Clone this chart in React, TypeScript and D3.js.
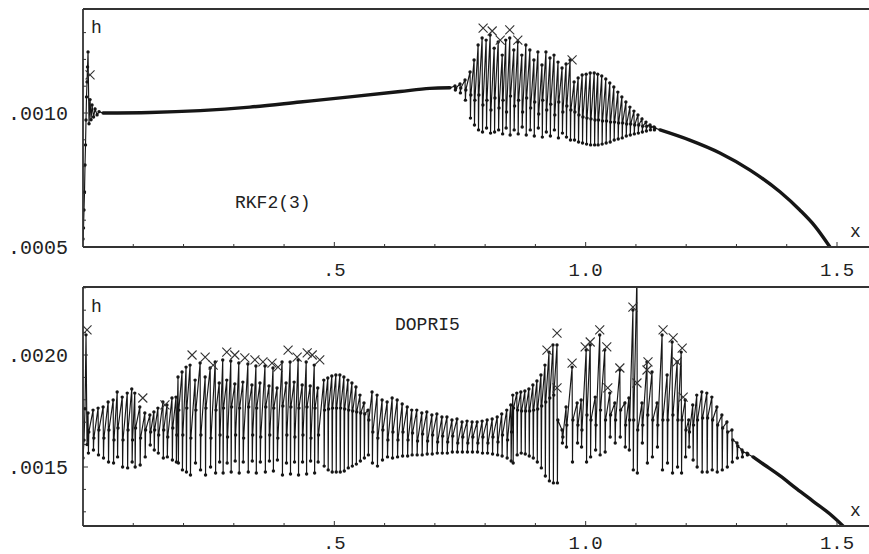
import * as d3 from "d3";
import { useRef, useEffect } from "react";

const width = 869;
const height = 554;

// x axis (shared)
const xMajorTicks = [0.5, 1.0, 1.5];
const xMinorTicks = [0.1, 0.2, 0.3, 0.4, 0.6, 0.7, 0.8, 0.9, 1.1, 1.2, 1.3, 1.4];
const xTickLabels = [".5", "1.0", "1.5"];

// ---- RKF2(3): step size h, in units of 1e-4 ----
const rkfYMajor = [5, 10];
const rkfYMinor = [6, 7, 8, 9, 11, 12, 13];
const rkfYLabels = [".0005", ".0010"];

// start-up steps [x, h]
const rkfStart = [
  [0.0, 5.3], [0.001, 5.71], [0.002, 6.38], [0.003, 7.05], [0.004, 8.06], [0.005, 8.81],
  [0.006, 9.74], [0.007, 10.6], [0.008, 11.16], [0.009, 11.72], [0.01, 12.28], [0.012, 9.6],
  [0.014, 10.5], [0.016, 9.75], [0.018, 10.3], [0.021, 9.85], [0.024, 10.15], [0.028, 9.93],
  [0.032, 10.05],
];
// smooth part [x, h]
const rkfSmooth = [
  [0.04, 10.0], [0.133, 10.02], [0.233, 10.09], [0.332, 10.22], [0.432, 10.41],
  [0.531, 10.6], [0.631, 10.8], [0.69, 10.92], [0.73, 10.94],
];
// oscillating steps [x, high, low, middle]
const rkfStrokes = [
  [0.74, 11.01, 10.86, 10.93], [0.75, 11.08, 10.75, 10.93], [0.76, 11.23, 10.48, 10.86],
  [0.77, 11.53, 9.81, 10.67], [0.778, 11.98, 9.55, 10.48], [0.786, 12.54, 9.37, 10.67],
  [0.794, 12.8, 9.29, 10.3], [0.802, 12.72, 9.44, 10.48], [0.81, 12.91, 9.25, 10.11],
  [0.818, 12.42, 9.29, 10.56], [0.826, 12.65, 9.37, 10.19], [0.834, 12.16, 9.22, 10.48],
  [0.841, 12.72, 9.44, 10.04], [0.849, 12.8, 9.18, 10.63], [0.857, 12.35, 9.37, 10.26],
  [0.865, 12.65, 9.22, 10.48], [0.873, 12.16, 9.48, 10.04], [0.881, 12.54, 9.18, 10.56],
  [0.889, 12.35, 9.37, 10.19], [0.897, 11.98, 9.14, 10.41], [0.905, 12.28, 9.44, 9.96],
  [0.913, 11.79, 9.1, 10.48], [0.921, 12.28, 9.29, 10.11], [0.929, 12.05, 9.14, 10.33],
  [0.937, 12.16, 9.37, 9.93], [0.945, 11.9, 9.07, 10.41], [0.953, 11.68, 9.25, 10.04],
  [0.961, 11.83, 9.1, 10.26], [0.969, 11.98, 8.99, 10.11],
  [0.977, 11.16, 8.99, 10.04], [0.985, 11.31, 8.92, 9.93], [0.993, 11.42, 8.88, 9.85],
  [1.001, 11.45, 8.84, 9.81], [1.009, 11.49, 8.81, 9.78], [1.017, 11.49, 8.81, 9.74],
  [1.024, 11.45, 8.81, 9.74], [1.032, 11.38, 8.84, 9.7], [1.04, 11.27, 8.88, 9.7],
  [1.048, 11.12, 8.92, 9.66], [1.056, 10.97, 8.99, 9.66], [1.064, 10.78, 9.03, 9.63],
  [1.072, 10.6, 9.07, 9.63], [1.08, 10.41, 9.14, 9.59], [1.088, 10.22, 9.18, 9.59],
  [1.096, 10.07, 9.22, 9.55], [1.104, 9.93, 9.25, 9.55], [1.112, 9.78, 9.29, 9.51],
  [1.12, 9.66, 9.33, 9.51], [1.128, 9.55, 9.37, 9.48], [1.136, 9.48, 9.37, 9.44],
];
const rkfTail = [
  [1.148, 9.37], [1.207, 8.99], [1.267, 8.51], [1.327, 7.87], [1.387, 7.05],
  [1.426, 6.38], [1.456, 5.78], [1.486, 5.0],
];
// rejected steps [x, h]
const rkfRejected = [
  [0.014, 11.42], [0.796, 13.17], [0.814, 13.06], [0.83, 12.72], [0.849, 13.1],
  [0.865, 12.72], [0.973, 11.98],
];

// ---- DOPRI5: step size h, in units of 1e-4 ----
const dopYMajor = [15, 20];
const dopYMinor = [13, 14, 16, 17, 18, 19, 21, 22, 23];
const dopYLabels = [".0015", ".0020"];

const dopStart = [
  [0.0, 15.4], [0.002, 16.2], [0.004, 17.6], [0.006, 20.9], [0.008, 16.0],
];
const dopStrokes = [
  [0.01, 17.41, 15.62, 16.56], [0.02, 17.54, 15.76, 16.29], [0.03, 17.63, 15.54, 16.65],
  [0.04, 17.68, 15.4, 16.29], [0.05, 17.9, 15.22, 16.65], [0.06, 17.99, 15.18, 16.21],
  [0.068, 18.35, 15.45, 16.74], [0.078, 18.12, 15.0, 16.21], [0.088, 18.3, 14.96, 16.65],
  [0.097, 18.48, 15.22, 16.21], [0.103, 18.3, 15.0, 16.74], [0.113, 17.68, 15.09, 16.29],
  [0.123, 17.41, 15.45, 16.65], [0.133, 17.32, 15.98, 16.56], [0.141, 17.46, 15.76, 16.65],
  [0.149, 17.63, 15.62, 16.43], [0.159, 17.9, 15.4, 16.65], [0.167, 17.77, 15.45, 16.34],
  [0.177, 18.08, 15.31, 16.74], [0.185, 18.12, 15.22, 16.43],
  [0.189, 19.02, 15.18, 17.54], [0.197, 19.24, 14.87, 16.43], [0.205, 19.46, 14.78, 17.63],
  [0.213, 19.55, 14.64, 16.29], [0.223, 18.88, 15.18, 17.54], [0.233, 19.64, 14.87, 16.43],
  [0.243, 19.02, 14.64, 17.63], [0.253, 19.42, 15.0, 16.29], [0.263, 19.69, 14.73, 17.54],
  [0.271, 18.75, 15.22, 16.43], [0.278, 19.78, 14.73, 17.63], [0.286, 18.88, 15.18, 16.34],
  [0.294, 19.73, 14.78, 17.68], [0.302, 18.71, 15.27, 16.43], [0.31, 19.64, 14.73, 17.63],
  [0.318, 18.79, 15.22, 16.29], [0.328, 19.6, 14.78, 17.68], [0.336, 18.66, 15.27, 16.43],
  [0.344, 19.51, 14.73, 17.63], [0.352, 18.75, 15.22, 16.34], [0.362, 19.51, 14.78, 17.68],
  [0.37, 18.62, 15.27, 16.43], [0.378, 19.42, 14.82, 17.63], [0.386, 18.53, 15.31, 16.29],
  [0.396, 19.69, 14.64, 17.72], [0.404, 18.75, 15.18, 16.43], [0.412, 19.69, 14.69, 17.68],
  [0.42, 18.79, 15.22, 16.34], [0.428, 19.78, 14.64, 17.63], [0.436, 18.66, 15.22, 16.43],
  [0.444, 19.69, 14.69, 17.68], [0.452, 18.62, 15.27, 16.29], [0.46, 19.55, 14.73, 17.63],
  [0.467, 18.53, 15.22, 16.43],
  [0.479, 18.88, 15.04, 17.54], [0.487, 18.97, 14.87, 17.59], [0.495, 19.06, 14.78, 17.63],
  [0.503, 19.11, 14.78, 17.63], [0.511, 19.11, 14.78, 17.63], [0.519, 19.02, 14.82, 17.59],
  [0.527, 18.88, 14.96, 17.54], [0.535, 18.75, 15.04, 17.5], [0.543, 18.57, 15.13, 17.46],
  [0.551, 18.21, 15.27, 17.41], [0.559, 17.86, 15.4, 17.37], [0.567, 17.54, 15.54, 17.1],
  [0.575, 18.35, 15.18, 16.56], [0.585, 18.21, 15.04, 16.29], [0.595, 17.99, 15.31, 16.65],
  [0.605, 17.9, 15.45, 16.21], [0.615, 18.08, 15.4, 16.56], [0.625, 17.99, 15.45, 16.21],
  [0.635, 17.81, 15.49, 16.56], [0.645, 17.68, 15.49, 16.21], [0.654, 17.54, 15.54, 16.52],
  [0.664, 17.54, 15.54, 16.16], [0.674, 17.41, 15.54, 16.47], [0.684, 17.46, 15.58, 16.16],
  [0.694, 17.32, 15.58, 16.43], [0.704, 17.37, 15.62, 16.12], [0.714, 17.23, 15.62, 16.38],
  [0.724, 17.23, 15.62, 16.12], [0.734, 17.1, 15.67, 16.38], [0.744, 17.14, 15.67, 16.07],
  [0.754, 17.01, 15.67, 16.34], [0.764, 17.05, 15.67, 16.07], [0.774, 17.01, 15.67, 16.34],
  [0.784, 17.01, 15.67, 16.07], [0.794, 17.05, 15.62, 16.34], [0.804, 17.1, 15.62, 16.07],
  [0.814, 17.14, 15.58, 16.34], [0.824, 17.23, 15.54, 16.12], [0.833, 17.37, 15.49, 16.43],
  [0.843, 17.54, 15.4, 16.21], [0.851, 17.77, 15.27, 16.56],
  [0.855, 18.21, 15.18, 17.63], [0.863, 18.3, 15.54, 17.54], [0.871, 18.35, 15.62, 17.5],
  [0.879, 18.39, 15.58, 17.5], [0.887, 18.48, 15.49, 17.5], [0.895, 18.66, 15.4, 17.54],
  [0.903, 18.84, 15.22, 17.59], [0.911, 19.11, 14.96, 17.72], [0.919, 19.55, 14.6, 17.9],
  [0.927, 20.13, 14.38, 18.08], [0.935, 20.45, 14.29, 18.21],
  [0.943, 20.45, 14.29, 17.1], [0.953, 16.65, 16.07, 16.34], [0.961, 17.68, 15.89, 16.87],
  [0.973, 19.46, 15.22, 17.1], [0.983, 17.86, 16.07, 16.87], [0.991, 17.99, 15.89, 16.65],
  [1.001, 20.22, 15.22, 17.32], [1.009, 20.45, 15.45, 17.1], [1.019, 18.12, 15.76, 16.87],
  [1.028, 20.89, 15.54, 17.54], [1.038, 20.22, 15.67, 17.1], [1.048, 18.3, 16.34, 17.32],
  [1.058, 17.86, 16.07, 17.1], [1.068, 19.33, 16.34, 17.54], [1.078, 17.86, 15.89, 16.87],
  [1.086, 18.08, 15.76, 17.1], [1.094, 22.01, 14.87, 17.1], [1.102, 23.6, 14.73, 16.65],
  [1.112, 17.86, 16.07, 16.87], [1.122, 19.69, 15.18, 17.32], [1.132, 19.24, 15.45, 17.1],
  [1.142, 17.86, 15.89, 16.87], [1.152, 20.89, 14.87, 17.1], [1.162, 19.11, 15.18, 17.1],
  [1.172, 20.58, 14.73, 17.32], [1.182, 19.69, 15.0, 17.1], [1.19, 20.13, 14.73, 17.1],
  [1.198, 17.99, 15.45, 16.65],
  [1.205, 17.1, 15.89, 16.56], [1.213, 17.77, 15.31, 16.87], [1.221, 18.21, 15.0, 17.1],
  [1.231, 18.35, 14.78, 17.19], [1.241, 18.3, 14.78, 17.19], [1.251, 18.12, 14.87, 17.1],
  [1.261, 17.68, 14.78, 16.87], [1.271, 17.32, 14.87, 16.74], [1.281, 17.01, 15.0, 16.56],
  [1.291, 16.65, 15.22, 16.21], [1.301, 16.07, 15.4, 15.94], [1.311, 15.76, 15.45, 15.67],
  [1.321, 15.62, 15.54, 15.58],
];
const dopTail = [
  [1.333, 15.45], [1.356, 15.09], [1.387, 14.6], [1.42, 14.02], [1.452, 13.48],
  [1.486, 12.9], [1.512, 12.37],
];
const dopRejected = [
  [0.008, 21.12], [0.119, 18.08], [0.163, 17.77], [0.217, 20.0], [0.243, 19.91],
  [0.259, 19.55], [0.286, 20.13], [0.302, 20.0], [0.322, 19.87], [0.342, 19.78],
  [0.358, 19.69], [0.376, 19.64], [0.388, 19.46], [0.408, 20.22], [0.426, 19.91],
  [0.446, 20.09], [0.456, 20.0], [0.471, 19.78], [0.923, 20.22], [0.943, 20.98],
  [0.943, 18.53], [0.973, 19.64], [0.999, 20.36], [1.009, 20.58], [1.028, 21.12],
  [1.042, 20.36], [1.044, 18.53], [1.068, 19.42], [1.094, 22.14], [1.102, 18.75],
  [1.122, 19.33], [1.124, 19.69], [1.154, 21.12], [1.174, 20.76], [1.182, 19.69],
  [1.192, 20.31], [1.194, 18.12],
];

// layout of the two panels
const panels = [
  {
    id: "rkf", name: "RKF2(3)", top: 9, bottom: 247,
    yRef: [5, 10], yRefPx: [247, 113],
    yMajor: rkfYMajor, yMinor: rkfYMinor, yLabels: rkfYLabels,
    start: rkfStart, smooth: rkfSmooth, strokes: rkfStrokes, tail: rkfTail, rejected: rkfRejected,
    nameX: 235, nameY: 208, hY: 33, xLabY: 237, tickLabY: 276,
  },
  {
    id: "dop", name: "DOPRI5", top: 287, bottom: 526,
    yRef: [15, 20], yRefPx: [467, 355],
    yMajor: dopYMajor, yMinor: dopYMinor, yLabels: dopYLabels,
    start: dopStart, smooth: [], strokes: dopStrokes, tail: dopTail, rejected: dopRejected,
    nameX: 395, nameY: 330, hY: 312, xLabY: 516, tickLabY: 549,
  },
];

const left = 83;
const EPS = 0.0008;
const ink = "#161616";
const mono = "'Liberation Mono', 'DejaVu Sans Mono', monospace";

export default function App() {
  const ref = useRef(null);

  useEffect(() => {
    const svg = d3.select(ref.current);
    svg.selectAll("*").remove();

    const x = d3.scaleLinear().domain([0, 1.5]).range([left, 837]);

    panels.forEach((p) => {
      const y = d3.scaleLinear().domain(p.yRef).range(p.yRefPx);
      const g = svg.append("g");

      g.append("clipPath")
        .attr("id", `clip-${p.id}`)
        .append("rect")
        .attr("x", left)
        .attr("y", p.top)
        .attr("width", width - left)
        .attr("height", p.bottom - p.top);

      const plot = g.append("g").attr("clip-path", `url(#clip-${p.id})`);

      const zig = p.strokes.flatMap(([xv, a, b, c]) => [
        [xv, a], [xv + EPS, b], [xv + 2 * EPS, c],
      ]);
      const all = [...p.start, ...p.smooth, ...zig, ...p.tail];

      const line = d3.line().x((d) => x(d[0])).y((d) => y(d[1]));
      const smoothLine = d3.line().curve(d3.curveMonotoneX).x((d) => x(d[0])).y((d) => y(d[1]));

      plot.append("path")
        .attr("d", line(all))
        .attr("fill", "none")
        .attr("stroke", ink)
        .attr("stroke-width", 1.15);

      [p.smooth, p.tail].filter((s) => s.length).forEach((s) => {
        plot.append("path")
          .attr("d", smoothLine(s))
          .attr("fill", "none")
          .attr("stroke", ink)
          .attr("stroke-width", 3.4)
          .attr("stroke-linecap", "round");
      });

      plot.append("g")
        .selectAll("circle")
        .data([...p.start, ...zig])
        .join("circle")
        .attr("cx", (d) => x(d[0]))
        .attr("cy", (d) => y(d[1]))
        .attr("r", 1.7)
        .attr("fill", ink);

      const s = 4.5;
      plot.append("g")
        .selectAll("path")
        .data(p.rejected)
        .join("path")
        .attr("transform", (d) => `translate(${x(d[0])},${y(d[1])})`)
        .attr("d", `M${-s},${-s}L${s},${s}M${-s},${s}L${s},${-s}`)
        .attr("stroke", "#333")
        .attr("stroke-width", 1.1)
        .attr("fill", "none");

      // frame
      const frame = g.append("g").attr("stroke", "#333").attr("stroke-width", 1.8);
      frame.append("line").attr("x1", left).attr("x2", width).attr("y1", p.top).attr("y2", p.top);
      frame.append("line").attr("x1", left).attr("x2", width).attr("y1", p.bottom).attr("y2", p.bottom);
      frame.append("line").attr("x1", left).attr("x2", left).attr("y1", p.top).attr("y2", p.bottom);

      // ticks
      const ticks = g.append("g").attr("stroke", "#333").attr("stroke-width", 1);
      xMinorTicks.forEach((t) => {
        ticks.append("line").attr("x1", x(t)).attr("x2", x(t)).attr("y1", p.bottom).attr("y2", p.bottom - 3);
      });
      xMajorTicks.forEach((t) => {
        ticks.append("line").attr("x1", x(t)).attr("x2", x(t)).attr("y1", p.bottom).attr("y2", p.bottom - 5);
      });
      p.yMinor.forEach((t) => {
        ticks.append("line").attr("x1", left).attr("x2", left + 3).attr("y1", y(t)).attr("y2", y(t));
      });
      p.yMajor.forEach((t) => {
        ticks.append("line").attr("x1", left).attr("x2", left + 5).attr("y1", y(t)).attr("y2", y(t));
      });

      // labels
      const txt = g.append("g").attr("font-family", mono).attr("fill", "#222");
      xMajorTicks.forEach((t, i) => {
        txt.append("text")
          .attr("x", x(t))
          .attr("y", p.tickLabY)
          .attr("text-anchor", "middle")
          .attr("font-size", 19)
          .text(xTickLabels[i]);
      });
      p.yMajor.forEach((t, i) => {
        txt.append("text")
          .attr("x", 68)
          .attr("y", y(t) + 7)
          .attr("text-anchor", "end")
          .attr("font-size", 20)
          .text(p.yLabels[i]);
      });
      txt.append("text").attr("x", 91).attr("y", p.hY).attr("font-size", 18).text("h");
      txt.append("text").attr("x", 850).attr("y", p.xLabY).attr("font-size", 18).text("x");
      txt.append("text").attr("x", p.nameX).attr("y", p.nameY).attr("font-size", 18).text(p.name);
    });
  }, []);

  return (
    <svg
      ref={ref}
      width={width}
      height={height}
      viewBox={`0 0 ${width} ${height}`}
      style={{ position: "absolute", left: 0, top: 0, background: "#fff" }}
    />
  );
}
